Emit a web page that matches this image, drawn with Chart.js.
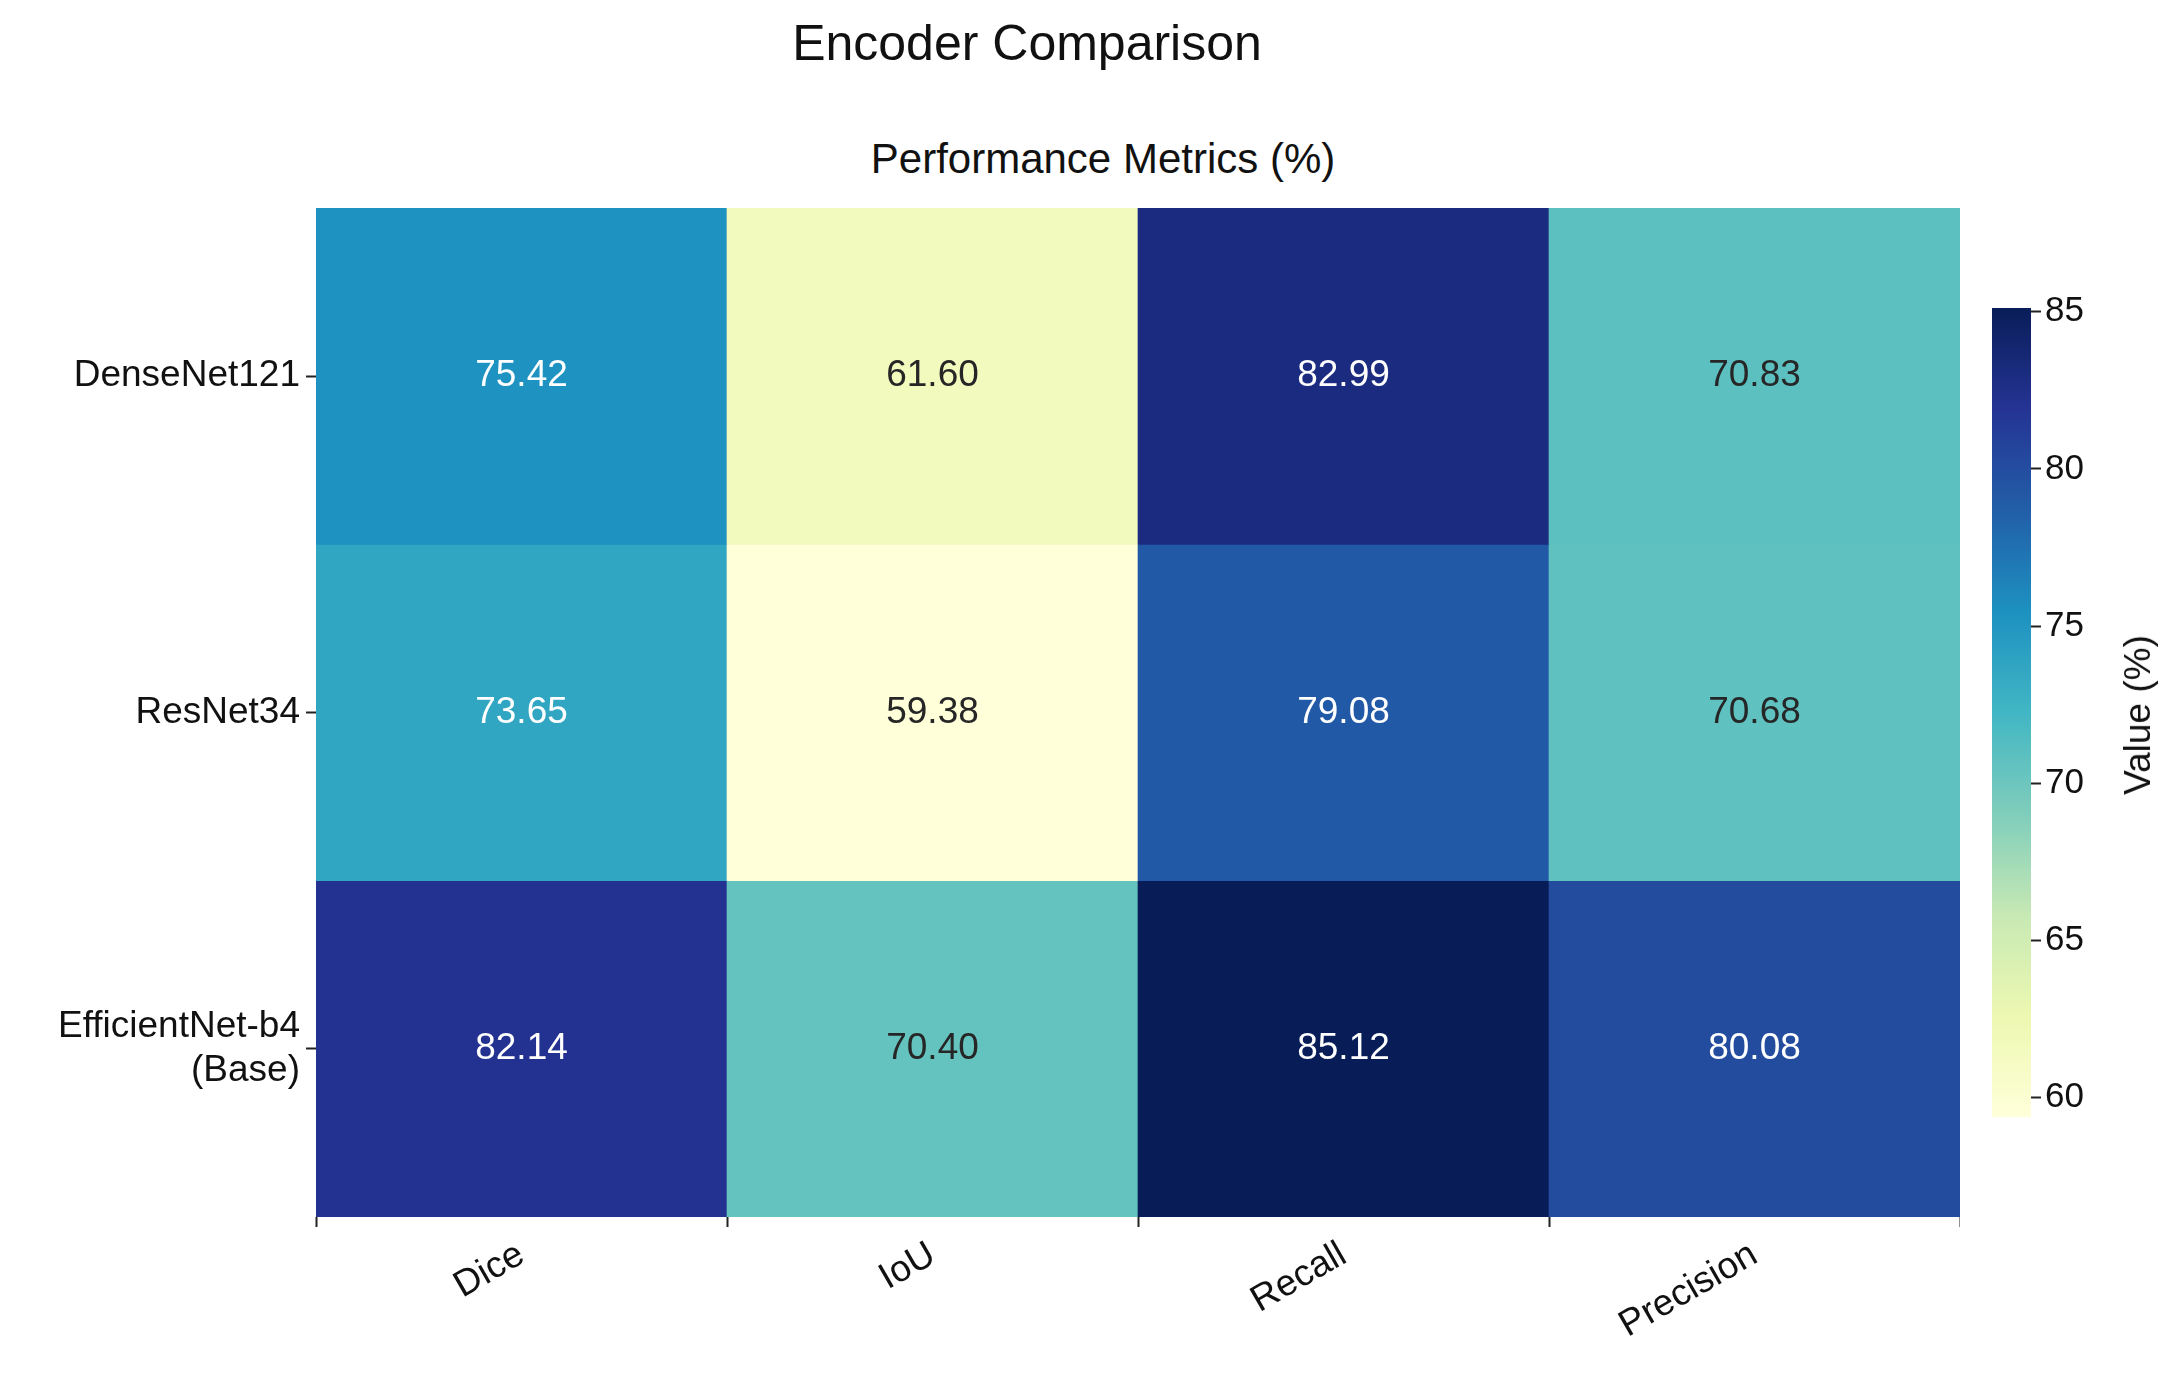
<!DOCTYPE html>
<html>
<head>
<meta charset="utf-8">
<script src="https://cdn.jsdelivr.net/npm/chart.js@4.4.1/dist/chart.umd.min.js"></script>
<style>
  html, body { margin: 0; padding: 0; background: #fff; }
  body { width: 2176px; height: 1378px; position: relative; overflow: hidden; font-family: "Liberation Sans", Arial, sans-serif; color: #111; }
  #main-wrap { position: absolute; left: 0; top: 0; width: 1960px; height: 1378px; }
  #bar-wrap { position: absolute; left: 1960px; top: 0; width: 216px; height: 1378px; }
  .title { position: absolute; white-space: nowrap; transform: translateX(-50%); }
  #cbar-title { position: absolute; left: 2138px; top: 715px; font-size: 37px; white-space: nowrap; transform: translate(-50%, -50%) rotate(-90deg); }
</style>
</head>
<body>
<div class="title" style="left:1027px; top:14px; font-size:50px;">Encoder Comparison</div>
<div class="title" style="left:1103px; top:135px; font-size:42px;">Performance Metrics (%)</div>
<div id="main-wrap"><canvas id="heatmap"></canvas></div>
<div id="bar-wrap"><canvas id="colorbar"></canvas></div>
<div id="cbar-title">Value (%)</div>
<script>
const metrics = ['Dice', 'IoU', 'Recall', 'Precision'];
const encoders = ['DenseNet121', 'ResNet34', ['EfficientNet-b4', '(Base)']];
const denseValues = [75.42, 61.60, 82.99, 70.83];
const resnetValues = [73.65, 59.38, 79.08, 70.68];
const effValues = [82.14, 70.40, 85.12, 80.08];
const rows = [denseValues, resnetValues, effValues];
const colorbarTicks = [60, 65, 70, 75, 80, 85];

const vMin = 59.38, vMax = 85.12;
// YlGnBu
const stops = ['#ffffd9', '#edf8b1', '#c7e9b4', '#7fcdbb', '#41b6c4', '#1d91c0', '#225ea8', '#253494', '#081d58'];
const hex = h => [1, 3, 5].map(i => parseInt(h.substr(i, 2), 16));

function cmap(v) {
    const t = Math.min(1, Math.max(0, (v - vMin) / (vMax - vMin))) * (stops.length - 1);
    const i = Math.min(stops.length - 2, Math.floor(t));
    const f = t - i;
    const a = hex(stops[i]), b = hex(stops[i + 1]);
    return a.map((c, k) => Math.round(c + (b[k] - c) * f));
}
const rgb = c => `rgb(${c[0]},${c[1]},${c[2]})`;
function lum(c) {
    const l = c.map(x => { x /= 255; return x <= 0.03928 ? x / 12.92 : Math.pow((x + 0.055) / 1.055, 2.4); });
    return 0.2126 * l[0] + 0.7152 * l[1] + 0.0722 * l[2];
}

const cellLabelPlugin = {
    id: 'cellLabelPlugin',
    afterDatasetsDraw(chart) {
        const { ctx } = chart;
        chart.data.datasets.forEach((ds, di) => {
            chart.getDatasetMeta(di).data.forEach((el, ci) => {
                const v = rows[di][ci];
                ctx.save();
                ctx.fillStyle = lum(cmap(v)) > 0.408 ? '#262626' : '#ffffff';
                ctx.font = '37px "Liberation Sans", Arial, sans-serif';
                ctx.textAlign = 'center';
                ctx.textBaseline = 'middle';
                ctx.fillText(v.toFixed(2), el.x, (el.y + el.base) / 2);
                ctx.restore();
            });
        });
    }
};

const tickFont = { family: '"Liberation Sans", Arial, sans-serif', size: 37 };

new Chart(document.getElementById('heatmap'), {
    type: 'bar',
    data: {
        labels: metrics,
        datasets: rows.map((vals, r) => ({
            data: vals.map(() => [r, r + 1]),
            backgroundColor: vals.map(v => rgb(cmap(v))),
            borderWidth: 0,
            barPercentage: 1.0,
            categoryPercentage: 1.0,
            grouped: false
        }))
    },
    options: {
        responsive: true,
        maintainAspectRatio: false,
        animation: false,
        layout: { padding: { top: 208, right: 0, left: 0, bottom: 0 } },
        plugins: { legend: { display: false }, tooltip: { enabled: false } },
        scales: {
            x: {
                ticks: { font: tickFont, color: '#111', minRotation: 30, maxRotation: 30, padding: 6 },
                grid: { drawOnChartArea: false, tickLength: 10, color: '#222', tickWidth: 2 },
                border: { display: false },
                afterFit: s => { s.height = 161; }
            },
            y: {
                type: 'linear', min: 0, max: 3, reverse: true,
                afterBuildTicks: s => { s.ticks = [0.5, 1.5, 2.5].map(v => ({ value: v })); },
                ticks: {
                    font: tickFont, color: '#111', padding: 6,
                    callback: v => encoders[Math.floor(v)]
                },
                grid: { drawOnChartArea: false, tickLength: 10, color: '#222', tickWidth: 2 },
                border: { display: false },
                afterFit: s => { s.width = 316; }
            }
        }
    },
    plugins: [cellLabelPlugin]
});

new Chart(document.getElementById('colorbar'), {
    type: 'bar',
    data: {
        labels: [''],
        datasets: [{
            data: [[vMin, vMax]],
            borderWidth: 0,
            barPercentage: 1.0,
            categoryPercentage: 1.0,
            backgroundColor: ctx => {
                const area = ctx.chart.chartArea;
                if (!area) return stops[4];
                const g = ctx.chart.ctx.createLinearGradient(0, area.bottom, 0, area.top);
                for (let i = 0; i <= 40; i++) {
                    g.addColorStop(i / 40, rgb(cmap(vMin + (vMax - vMin) * i / 40)));
                }
                return g;
            }
        }]
    },
    options: {
        responsive: true,
        maintainAspectRatio: false,
        animation: false,
        layout: { padding: { top: 308, left: 32, right: 0, bottom: 261 } },
        plugins: { legend: { display: false }, tooltip: { enabled: false } },
        scales: {
            x: { display: false },
            y: {
                position: 'right', min: vMin, max: vMax,
                afterBuildTicks: s => { s.ticks = colorbarTicks.map(v => ({ value: v })); },
                ticks: { font: { family: tickFont.family, size: 35 }, color: '#111', padding: 4 },
                grid: { drawOnChartArea: false, tickLength: 10, color: '#222', tickWidth: 2 },
                border: { display: false },
                afterFit: s => { s.width = 145; }
            }
        }
    }
});
</script>
</body>
</html>
